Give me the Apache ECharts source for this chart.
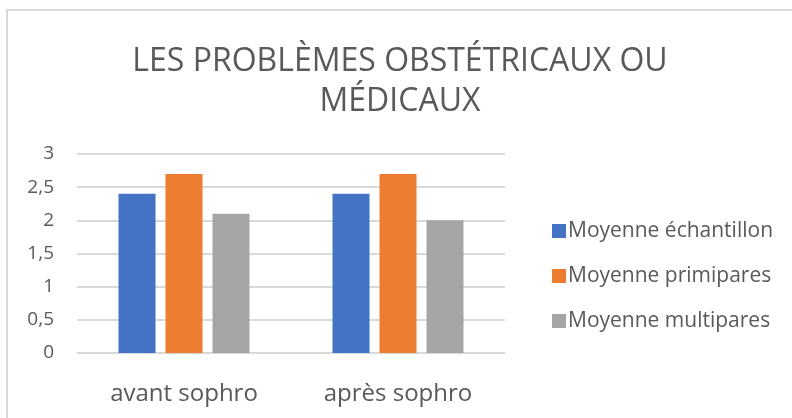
<!DOCTYPE html>
<html>
<head>
<meta charset="utf-8">
<script src="https://cdn.jsdelivr.net/npm/echarts@6/dist/echarts.min.js"></script>
<style>
  html, body { margin: 0; padding: 0; background: #fff; }
  #chart { width: 792px; height: 418px; }
</style>
</head>
<body>
<div id="chart"></div>
<script>
// categories and series
const categories = ["avant sophro", "après sophro"];
const seriesNames = ["Moyenne échantillon", "Moyenne primipares", "Moyenne multipares"];
const echantillon = [2.4, 2.4];
const primipares = [2.7, 2.7];
const multipares = [2.1, 2.0];
const colors = ["#4472C4", "#ED7D31", "#A5A5A5"];

const font = "Open Sans";
const textColor = "#595959";

const chart = echarts.init(document.getElementById("chart"));

const values = [echantillon, primipares, multipares];

chart.setOption({
  animation: false,
  color: colors,
  title: {
    text: "LES PROBLÈMES OBSTÉTRICAUX OU\nMÉDICAUX",
    left: 395,
    textAlign: "center",
    top: 37,
    textStyle: {
      fontFamily: font,
      fontSize: 32,
      fontWeight: "normal",
      color: textColor,
      lineHeight: 40
    }
  },
  graphic: [
    {
      type: "rect",
      shape: { x: 7, y: 10, width: 820, height: 440 },
      style: { fill: null, stroke: "#d9d9d9", lineWidth: 2 },
      silent: true
    }
  ],
  legend: {
    orient: "vertical",
    left: 547,
    top: 215,
    itemWidth: 14,
    itemHeight: 14,
    itemGap: 23,
    icon: "rect",
    textStyle: { fontFamily: font, fontSize: 21, lineHeight: 22, color: textColor, padding: [0, 0, 0, -3] },
    data: seriesNames
  },
  grid: { left: 77, right: 287, top: 154, bottom: 65 },
  xAxis: {
    type: "category",
    data: categories,
    axisLine: { lineStyle: { color: "#d9d9d9", width: 1 } },
    axisTick: { show: false },
    axisLabel: { fontFamily: font, fontSize: 24, color: textColor, margin: 29 }
  },
  yAxis: {
    type: "value",
    min: 0,
    max: 3,
    interval: 0.5,
    axisLine: { show: false },
    axisTick: { show: false },
    splitLine: { lineStyle: { color: "#d9d9d9", width: 2 } },
    axisLabel: {
      fontFamily: font,
      fontSize: 19,
      color: textColor,
      margin: 23,
      formatter: v => String(v).replace(".", ",")
    }
  },
  series: seriesNames.map((name, i) => ({
    name: name,
    type: "bar",
    data: values[i],
    barWidth: 37,
    barGap: "27%"
  }))
});
</script>
</body>
</html>
